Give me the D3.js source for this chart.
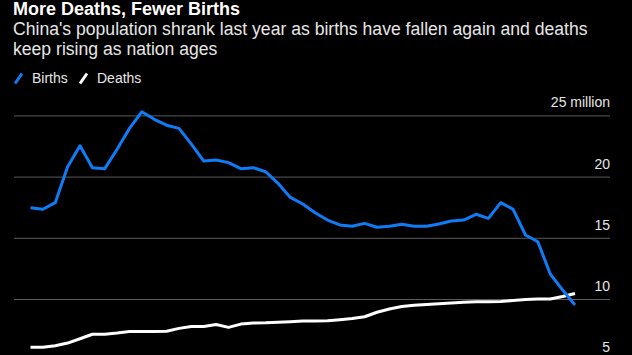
<!DOCTYPE html>
<html>
<head>
<meta charset="utf-8">
<script src="https://cdn.jsdelivr.net/npm/d3@7/dist/d3.min.js"></script>
<style>
  html, body { margin: 0; padding: 0; background: #000; }
  svg { display: block; }
  text { font-family: "Liberation Sans", Arial, Helvetica, sans-serif; }
</style>
</head>
<body>
<svg id="chart" width="632" height="355"></svg>
<script>
const years = d3.range(1978, 2023);
const births = [17.45, 17.33, 17.87, 20.81, 22.52, 20.73, 20.65, 22.23, 23.94, 25.3,
  24.68, 24.2, 23.94, 22.65, 21.27, 21.36, 21.14, 20.65, 20.73, 20.4,
  19.45, 18.3, 17.76, 17.05, 16.45, 16.05, 15.94, 16.18, 15.86, 15.94,
  16.1, 15.94, 15.94, 16.13, 16.37, 16.45, 16.92, 16.59, 17.87, 17.33,
  15.23, 14.68, 12.04, 10.73, 9.51];
const deaths = [6.05, 6.05, 6.18, 6.4, 6.75, 7.12, 7.12, 7.22, 7.35, 7.35,
  7.35, 7.36, 7.6, 7.75, 7.75, 7.92, 7.68, 7.95, 8.03, 8.05,
  8.1, 8.15, 8.2, 8.2, 8.22, 8.3, 8.4, 8.55, 8.92, 9.18,
  9.38, 9.48, 9.55, 9.62, 9.68, 9.73, 9.78, 9.78, 9.8, 9.88,
  9.95, 10.0, 10.0, 10.2, 10.45];
const yTicks = [5, 10, 15, 20, 25];
const seriesNames = ["Births", "Deaths"];
const seriesColors = ["#0f7cf5", "#ffffff"];

const svg = d3.select("#chart");

// Title & subtitle
svg.append("text").attr("x", 13).attr("y", 15)
  .attr("fill", "#fff").attr("font-size", 18).attr("font-weight", "bold")
  .text("More Deaths, Fewer Births");
const sub = ["China's population shrank last year as births have fallen again and deaths",
             "keep rising as nation ages"];
sub.forEach((s, i) => {
  svg.append("text").attr("x", 13).attr("y", 34.5 + i * 20)
    .attr("fill", "#e6e6e6").attr("font-size", 17.6).text(s);
});

// Legend
const leg = svg.append("g");
const legX = [14, 79];
seriesNames.forEach((n, i) => {
  const g = leg.append("g").attr("transform", `translate(${legX[i]},0)`);
  g.append("line").attr("x1", 1).attr("y1", 83.5).attr("x2", 8).attr("y2", 73.5)
    .attr("stroke", seriesColors[i]).attr("stroke-width", 3).attr("stroke-linecap", "butt");
  g.append("text").attr("x", 18).attr("y", 83)
    .attr("fill", "#e6e6e6").attr("font-size", 14).text(n);
});

// Scales
const x = d3.scaleLinear().domain([1978, 2022]).range([30.5, 575]);
const y = d3.scaleLinear().domain([5, 25]).range([360.2, 115.4]);

// Axis / gridlines
const left = 14, right = 610;
const ax = svg.append("g").attr("transform", `translate(${left},0)`)
  .call(d3.axisRight(y).tickValues(yTicks).tickSize(right - left)
    .tickFormat(d => d === 25 ? "25 million" : d));
ax.select(".domain").remove();
ax.selectAll(".tick line").attr("stroke", "#5a5a5a").attr("stroke-width", 1);
ax.selectAll(".tick text")
  .attr("x", right - left).attr("dy", -8.5)
  .attr("text-anchor", "end").attr("fill", "#e6e6e6")
  .attr("font-size", 14)
  .attr("font-family", "\"Liberation Sans\", Arial, Helvetica, sans-serif");

// Lines
const line = d3.line().x(d => x(d[0])).y(d => y(d[1]));
[deaths, births].forEach((arr, k) => {
  const idx = k === 0 ? 1 : 0;
  svg.append("path")
    .datum(years.map((yr, i) => [yr, arr[i]]))
    .attr("d", line)
    .attr("fill", "none")
    .attr("stroke", seriesColors[idx])
    .attr("stroke-width", 3)
    .attr("stroke-linejoin", "round");
});
</script>
</body>
</html>
